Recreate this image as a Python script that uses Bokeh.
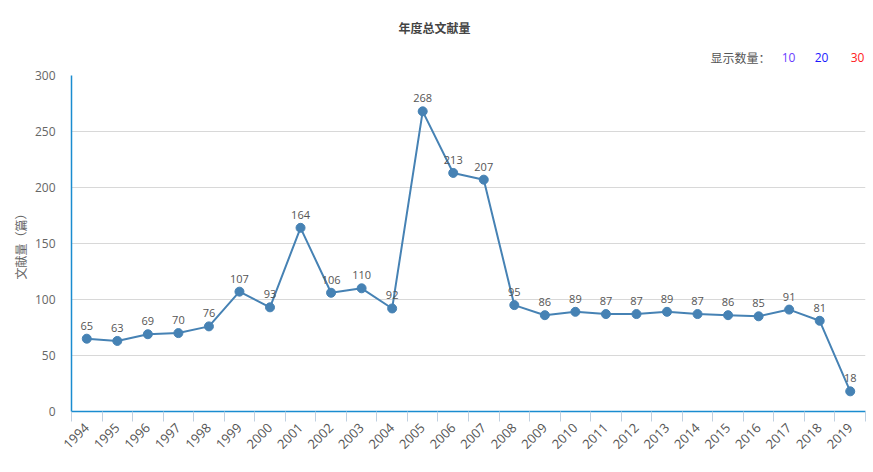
import math
from bokeh.plotting import figure
from bokeh.layouts import column
from bokeh.models import ColumnDataSource, FixedTicker, Label, Range1d
from bokeh.core.properties import value
from bokeh.embed import file_html
from bokeh.resources import INLINE

years = ["1994", "1995", "1996", "1997", "1998", "1999", "2000", "2001", "2002",
         "2003", "2004", "2005", "2006", "2007", "2008", "2009", "2010", "2011",
         "2012", "2013", "2014", "2015", "2016", "2017", "2018", "2019"]
counts = [65, 63, 69, 70, 76, 107, 93, 164, 106, 110, 92, 268, 213, 207, 95,
          86, 89, 87, 87, 89, 87, 86, 85, 91, 81, 18]
y_ticks = [0, 50, 100, 150, 200, 250, 300]
title_text = "年度总文献量"
y_title = "文献量（篇）"
legend_label = "显示数量："
legend_items = ["10", "20", "30"]
legend_colors = ["#6a3cff", "#1a1aff", "#ff2020"]

FONT = "Open Sans"
CJK = "Noto Sans CJK SC"
W = 873
HEAD_H = 65
LEFT = 71
RIGHT = 8
AXIS_BLUE = "#1a8cd0"

# ---------------- header (title + selector) ----------------
head = figure(width=W, height=HEAD_H, output_backend="svg", toolbar_location=None,
              x_range=Range1d(LEFT, W - RIGHT), y_range=Range1d(HEAD_H, 0),
              x_axis_type=None, y_axis_type=None)
head.min_border_left = LEFT
head.min_border_right = RIGHT
head.min_border_top = 0
head.min_border_bottom = 0
head.outline_line_color = None
head.xgrid.grid_line_color = None
head.ygrid.grid_line_color = None

head.add_layout(Label(x=434, y=27, text=title_text, text_align="center",
                      text_baseline="middle", text_font=CJK, text_font_size="12px",
                      text_font_style="bold", text_color="#444444"))
head.add_layout(Label(x=710, y=57, text=legend_label, text_align="left",
                      text_baseline="middle", text_font=CJK, text_font_size="12px",
                      text_color="#555555"))
for cx, t, c in zip([788, 821, 857], legend_items, legend_colors):
    head.add_layout(Label(x=cx, y=57, text=t, text_align="center",
                          text_baseline="middle", text_font=FONT,
                          text_font_size="12px", text_color=c))

# ---------------- main chart ----------------
xs = list(range(len(years)))
src = ColumnDataSource(dict(x=xs, y=counts, label=[str(c) for c in counts]))

p = figure(width=W, height=472 - HEAD_H, output_backend="svg", toolbar_location=None,
           x_range=Range1d(-0.5, len(years) - 0.5), y_range=Range1d(0, 300))
p.min_border_left = LEFT
p.min_border_right = RIGHT
p.min_border_top = 10
p.min_border_bottom = 61
p.outline_line_color = None

p.xgrid.grid_line_color = None
p.ygrid.grid_line_color = "#d8d8d8"
p.ygrid.grid_line_width = 1

p.xaxis.ticker = FixedTicker(ticks=xs, minor_ticks=[i - 0.5 for i in range(len(years) + 1)])
p.xaxis.major_label_overrides = {i: y for i, y in enumerate(years)}
p.xaxis.major_label_orientation = math.pi / 4
p.xaxis.major_tick_line_color = None
p.xaxis.minor_tick_line_color = "#c0d0e0"
p.xaxis.minor_tick_out = 10
p.xaxis.minor_tick_in = 0
p.xaxis.axis_line_color = AXIS_BLUE
p.xaxis.axis_line_width = 1.5
p.xaxis.major_label_text_color = "#555555"
p.xaxis.major_label_text_font = FONT
p.xaxis.major_label_text_font_size = "13px"
p.xaxis.major_label_standoff = 4

p.yaxis.ticker = FixedTicker(ticks=y_ticks)
p.yaxis.major_tick_line_color = None
p.yaxis.minor_tick_line_color = None
p.yaxis.axis_line_color = AXIS_BLUE
p.yaxis.axis_line_width = 1.5
p.yaxis.major_label_text_color = "#666666"
p.yaxis.major_label_text_font = FONT
p.yaxis.major_label_text_font_size = "12px"
p.yaxis.major_label_standoff = 10
p.yaxis.axis_label = y_title
p.yaxis.axis_label_text_font = CJK
p.yaxis.axis_label_text_font_style = "normal"
p.yaxis.axis_label_text_font_size = "12px"
p.yaxis.axis_label_text_color = "#666666"
p.yaxis.axis_label_standoff = 3

p.line("x", "y", source=src, line_color="#4682b4", line_width=2)
p.scatter("x", "y", source=src, size=9, fill_color="#4682b4", line_color="#4682b4")
p.text("x", "y", text="label", source=src, y_offset=-9, text_align="center",
       text_baseline="bottom", text_font=value(FONT), text_font_size="11px",
       text_color="#555555")

layout = column(head, p, spacing=0)
open("out.html", "w").write(file_html(layout, INLINE))
